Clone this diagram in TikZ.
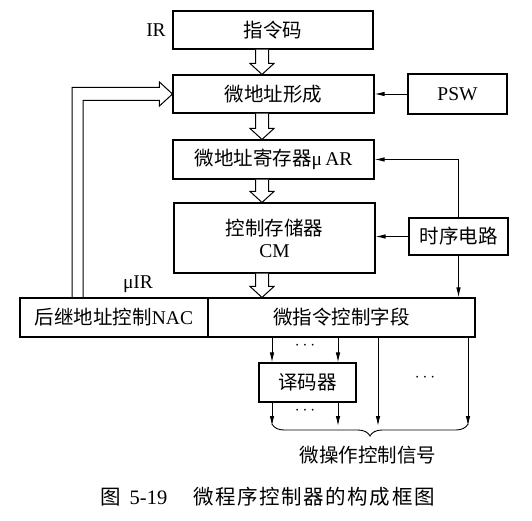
\documentclass[tikz,border=0pt]{standalone}
\usepackage{fontspec}
\setmainfont{Liberation Serif}
\newfontfamily\cjk{Noto Sans CJK SC}
\usetikzlibrary{arrows.meta,calc,decorations.pathreplacing}
\newcommand\hollowdown[2]{%
  \draw[hol] ($(#1)+(-6.5,0)$) -- ($(#2)+(-6.5,-11)$) -- ($(#2)+(-12,-11)$) -- (#2)
    -- ($(#2)+(12,-11)$) -- ($(#2)+(6.5,-11)$) -- ($(#1)+(6.5,0)$);}
\newcommand\cg{\hspace{1.6pt}}
\begin{document}
\begin{tikzpicture}[x=1pt,y=-1pt,
  every node/.style={font=\fontsize{19.5}{22}\selectfont},
  box/.style={draw,line width=1.1pt,inner sep=0pt},
  hol/.style={line width=1pt,fill=white,line join=miter},
  sig/.style={line width=0.9pt,-{Latex[length=10pt,width=4.5pt]}},
  dots/.style={font=\fontsize{16}{18}\selectfont}]
\path[use as bounding box] (0,0) rectangle (532,521);
% boxes
\node[box,minimum width=200pt,minimum height=38pt] (ir) at (273,30) {\cjk 指令码};
\node[box,minimum width=201pt,minimum height=38pt] (form) at (273.5,94) {\cjk 微地址形成};
\node[box,minimum width=99pt,minimum height=40pt] (psw) at (457.5,94) {PSW};
\node[box,minimum width=201pt,minimum height=39pt] (uar) at (273.5,159.5) {{\cjk 微地址寄存器}μ\,AR};
\node[box,minimum width=201pt,minimum height=70pt,align=center] (cm) at (274.5,238) {{\cjk 控制存储器}\\CM};
\node[box,minimum width=99pt,minimum height=37pt] (seq) at (458.5,236.5) {\cjk 时序电路};
\node[box,minimum width=188pt,minimum height=39pt] (nac) at (114,317.5) {{\cjk 后继地址控制}NAC};
\node[box,minimum width=267pt,minimum height=39pt] (field) at (341.5,317.5) {\cjk 微指令控制字段};
\node[box,minimum width=97pt,minimum height=39pt] (dec) at (307.5,382.5) {\cjk 译码器};
% labels
\node (irl) at (156,30) {IR};
\node (uirl) at (138,284) {μIR};
% hollow arrows
\coordinate (hx) at (262,0);
\coordinate (h1a) at (ir.south -| hx);   \coordinate (h1b) at (form.north -| hx);
\coordinate (h2a) at (form.south -| hx); \coordinate (h2b) at (uar.north -| hx);
\coordinate (h3a) at (uar.south -| hx);  \coordinate (h3b) at (cm.north -| hx);
\coordinate (h4a) at (cm.south -| hx);   \coordinate (h4b) at (field.north -| hx);
\hollowdown{h1a}{h1b}
\hollowdown{h2a}{h2b}
\hollowdown{h3a}{h3b}
\hollowdown{h4a}{h4b}
% feedback hollow arrow
\coordinate (lo) at (72,0);
\coordinate (li) at (83,0);
\draw[hol,fill=none] (nac.north -| lo) -- ($(form.west -| lo)+(0,-6.5)$) -- ($(form.west)+(-13,-6.5)$)
  -- ($(form.west)+(-13,-12)$) -- (form.west) -- ($(form.west)+(-13,12)$)
  -- ($(form.west)+(-13,6.5)$) -- ($(form.west -| li)+(0,6.5)$) -- (nac.north -| li);
% signal arrows
\draw[sig] (psw.west) -- (form.east);
\draw[sig] (seq.west) -- (seq.west -| cm.east);
\draw[sig] (seq.north) |- (uar.east);
\draw[sig] (seq.south) -- (seq.south |- field.north);
\coordinate (a1) at (272,0);
\coordinate (a2) at (338,0);
\coordinate (a3) at (378,0);
\coordinate (a4) at (468,0);
\coordinate (bot) at (0,426);
\draw[sig] (field.south -| a1) -- (dec.north -| a1);
\draw[sig] (field.south -| a2) -- (dec.north -| a2);
\draw[sig] (dec.south -| a1) -- (bot -| a1);
\draw[sig] (dec.south -| a2) -- (bot -| a2);
\draw[sig] (field.south -| a3) -- (bot -| a3);
\draw[sig] (field.south -| a4) -- (bot -| a4);
\draw[line width=0.9pt,decorate,decoration={brace,mirror,amplitude=12pt}] ($(bot -| a1)+(0,-2)$) -- ($(bot -| a4)+(0,-2)$);
% dots
\node[dots] (d1) at (305,346) {$\cdots$};
\node[dots] (d2) at (305,411) {$\cdots$};
\node[dots] (d3) at (425,378) {$\cdots$};
% signal label and caption
\node (sigl) at (368,455) {\cjk 微操作控制信号};
\node[anchor=west,inner sep=0pt,font=\fontsize{20.5}{23}\selectfont] (capnum) at (100,497) {{\cjk 图}\hspace{9pt}5-19};
\node[anchor=west,inner sep=0pt,font=\fontsize{20.5}{23}\selectfont] (cap) at (193,497) {\cjk 微\cg 程\cg 序\cg 控\cg 制\cg 器\cg 的\cg 构\cg 成\cg 框\cg 图};
\end{tikzpicture}
\end{document}
